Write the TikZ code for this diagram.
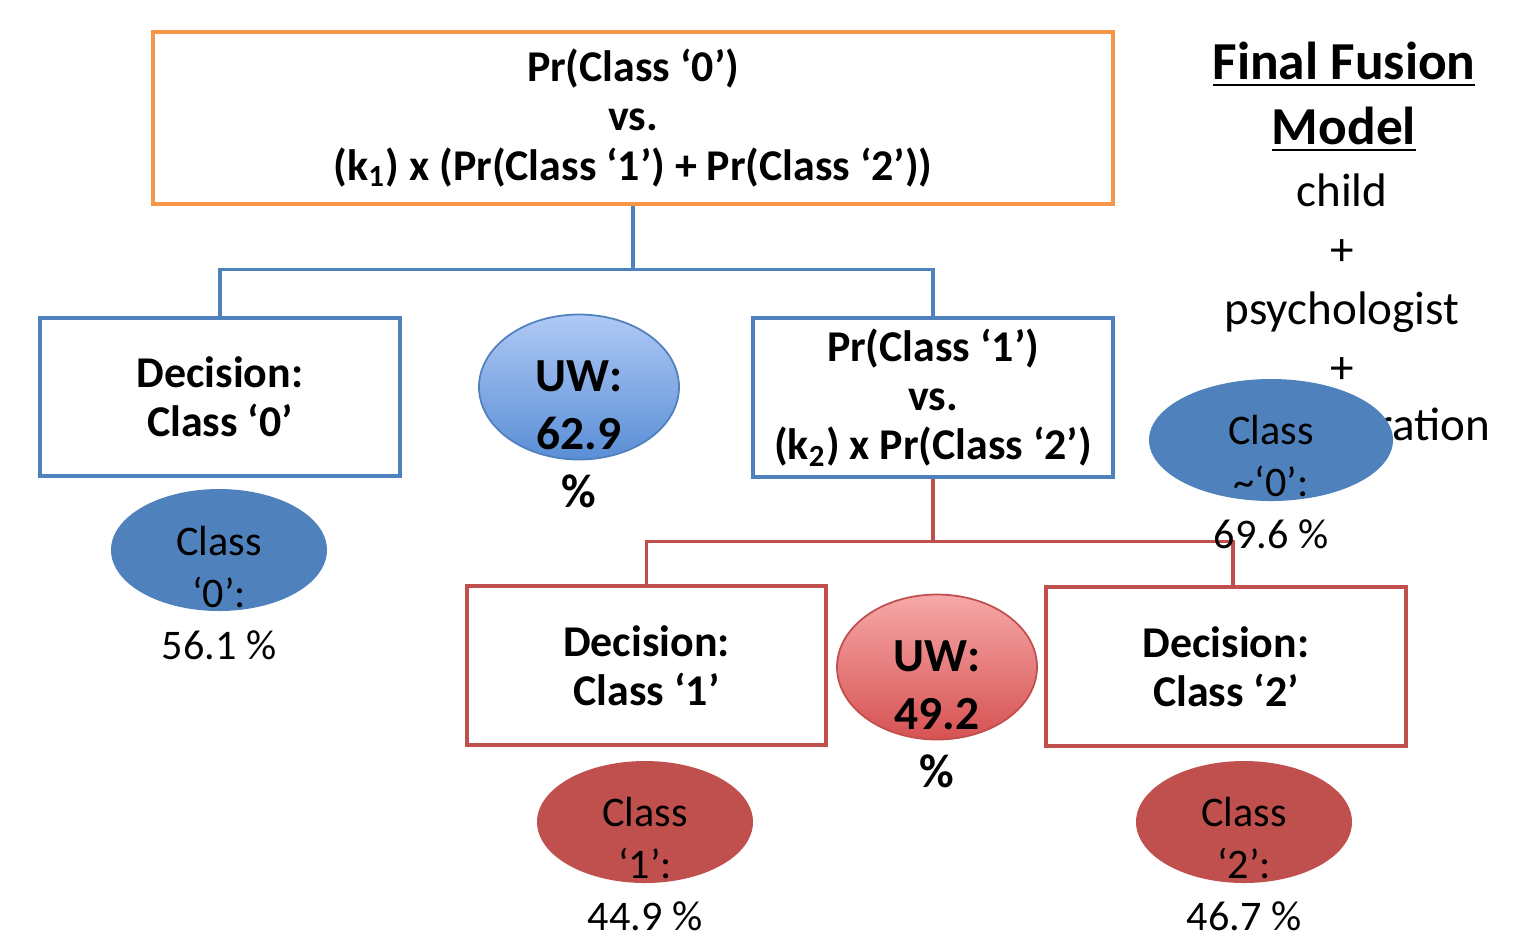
\documentclass[tikz,border=0pt]{standalone}
\usepackage{fontspec}
\setmainfont{Carlito}
\usetikzlibrary{shapes.geometric, positioning, calc}
\definecolor{fuseblue}{HTML}{4F81BD}
\definecolor{fusered}{HTML}{C0504D}
\definecolor{fuseorange}{HTML}{F79646}
\definecolor{uwbluetop}{HTML}{AFC9F5}
\definecolor{uwbluebot}{HTML}{5A8ED6}
\definecolor{uwredtop}{HTML}{F7A8A8}
\definecolor{uwredbot}{HTML}{D65252}
\tikzset{
    splitbox/.style={
        rectangle, line width=0.9pt, fill=white, align=center, inner sep=0pt,
        font=\fontsize{12.5}{14}\selectfont\bfseries
    },
    bluelink/.style={
        line width=0.9pt, draw=fuseblue
    },
    redlink/.style={
        line width=0.9pt, draw=fusered
    },
    uwblob/.style={
        ellipse, minimum width=2.0cm, minimum height=1.45cm, inner sep=0pt,
        line width=0.5pt
    },
    uwtext/.style={
        align=center, inner sep=0pt, font=\fontsize{13.5}{16.5}\selectfont\bfseries
    },
    classblob/.style={
        ellipse, minimum width=2.16cm, minimum height=1.22cm, inner sep=0pt,
        draw=none
    },
    classtext/.style={
        align=center, inner sep=0pt, font=\fontsize{12}{14.8}\selectfont
    },
    titletext/.style={
        align=center, inner sep=0pt, font=\fontsize{15.2}{18.5}\selectfont\bfseries
    },
    notetext/.style={
        align=center, inner sep=0pt, font=\fontsize{13.4}{16.8}\selectfont
    }
}
\begin{document}
\begin{tikzpicture}
    \useasboundingbox (0,0) rectangle (15.3,-9.34);

    % model description on the right
    \node[titletext]                (title)   at (13.44,-0.97) {\underline{Final Fusion}\\\underline{Model}};
    \node[notetext]                 (sources) at (13.42,-2.79) {child\\+\\psychologist\\+};
    \node[notetext, anchor=west]    (tail)    at (13.76,-4.24) {ration};

    % decision boxes
    \node[splitbox, draw=fuseorange, minimum width=9.6cm, minimum height=1.72cm] (top)  at (6.33,-1.18)
        {Pr(Class ‘0’)\\vs.\\(k\textsubscript{1}) x (Pr(Class ‘1’) + Pr(Class ‘2’))};
    \node[splitbox, draw=fuseblue, minimum width=3.6cm, minimum height=1.58cm]   (dec0) at (2.20,-3.97)
        {Decision:\\Class ‘0’};
    \node[splitbox, draw=fuseblue, minimum width=3.6cm, minimum height=1.59cm]   (mid)  at (9.33,-3.975)
        {Pr(Class ‘1’)\\vs.\\(k\textsubscript{2}) x Pr(Class ‘2’)};
    \node[splitbox, draw=fusered, minimum width=3.59cm, minimum height=1.59cm]   (dec1) at (6.465,-6.655)
        {Decision:\\Class ‘1’};
    \node[splitbox, draw=fusered, minimum width=3.6cm, minimum height=1.59cm]    (dec2) at (12.26,-6.665)
        {Decision:\\Class ‘2’};

    % tree connectors
    \coordinate (topjoin) at ($(top.south)+(0,-0.64)$);
    \coordinate (midjoin) at ($(mid.south)+(0,-0.63)$);
    \draw[bluelink] (top.south) -- (topjoin);
    \draw[bluelink] (dec0.north) |- (topjoin) -| (mid.north);
    \draw[redlink] (mid.south) -- (midjoin);
    \draw[redlink] (dec1.north) |- (midjoin) -| ($(dec2.north)+(0.07,0)$);

    % unweighted accuracies
    \node[uwblob, draw=fuseblue, top color=uwbluetop, bottom color=uwbluebot] (uw0) at (5.79,-3.87) {};
    \node[uwtext] (uw0txt) at (5.79,-4.34) {UW:\\62.9\\\%};
    \node[uwblob, draw=fusered, top color=uwredtop, bottom color=uwredbot]   (uw1) at (9.37,-6.67) {};
    \node[uwtext] (uw1txt) at (9.37,-7.14) {UW:\\49.2\\\%};

    % class recalls
    \node[classblob, fill=fuseblue]                     (c0)   at (2.19,-5.50) {};
    \node[classtext]                                    (c0txt) at (2.19,-5.93) {Class\\‘0’:\\56.1 \%};
    \node[classblob, fill=fuseblue, minimum width=2.44cm] (cn0)  at (12.71,-4.40) {};
    \node[classtext]                                    (cn0txt) at (12.71,-4.82) {Class\\\char`~‘0’:\\69.6 \%};
    \node[classblob, fill=fusered]                      (c1)   at (6.45,-8.22) {};
    \node[classtext]                                    (c1txt) at (6.45,-8.64) {Class\\‘1’:\\44.9 \%};
    \node[classblob, fill=fusered]                      (c2)   at (12.44,-8.22) {};
    \node[classtext]                                    (c2txt) at (12.44,-8.64) {Class\\‘2’:\\46.7 \%};

\end{tikzpicture}
\end{document}
